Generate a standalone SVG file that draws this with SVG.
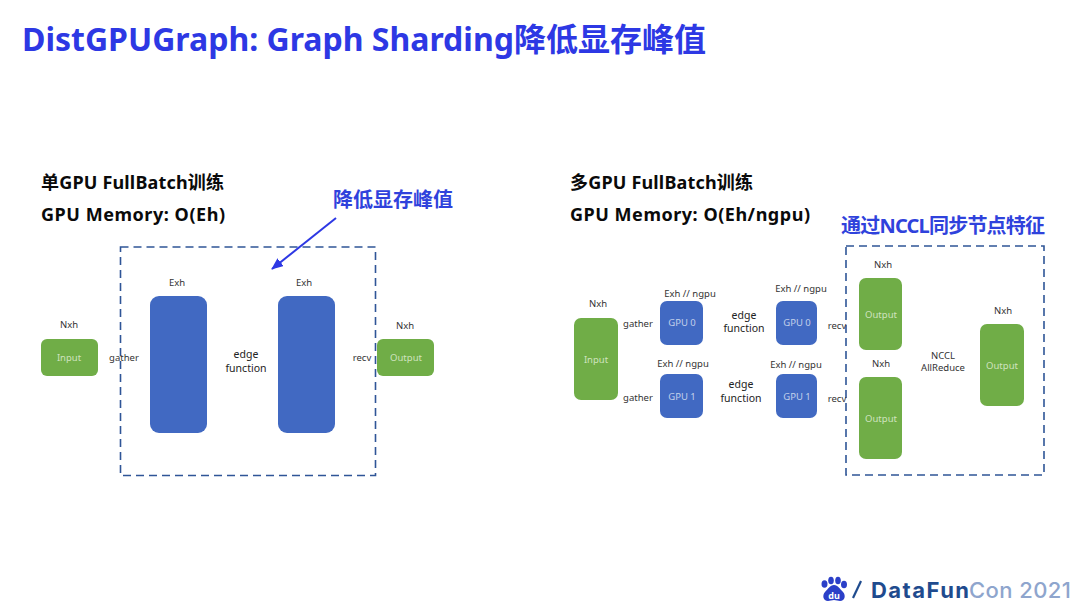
<svg xmlns="http://www.w3.org/2000/svg" width="1080" height="608" viewBox="0 0 1080 608">
<style>
text{font-family:"Noto Sans","Noto Sans CJK SC",sans-serif}
.title{font-size:32px;font-weight:700;fill:#2d38e4}
.head{font-size:18px;font-weight:700;fill:#0a0a0a}
.call{font-size:20px;font-weight:700;fill:#2f42dc}
.lab{font-size:9.5px;fill:#333;text-anchor:middle}
.big{font-size:10.500px;fill:#222;text-anchor:middle}
.in{font-size:9.5px;fill:#cfe3bf;text-anchor:middle}
.gpu{font-size:9.5px;fill:#c3d0ea;text-anchor:middle}
.blue{fill:#4169c2}
.green{fill:#70ad47}
.dash{fill:none;stroke:#2f5597;stroke-width:1.6;stroke-dasharray:8 5}
</style>
<defs>
<marker id="ah" markerWidth="6" markerHeight="5" refX="5.500" refY="2.500" orient="auto" markerUnits="strokeWidth"><path d="M0 0L6 2.500L0 5z" fill="#2d38e4"/></marker>
</defs>
<rect width="1080" height="608" fill="#fff"/>
<text class="title" x="22" y="51" textLength="684">DistGPUGraph: Graph Sharding降低显存峰值</text>
<text class="head" x="41" y="189" textLength="183">单GPU FullBatch训练</text>
<text class="head" x="41" y="221" textLength="184">GPU Memory: O(Eh)</text>
<text class="head" x="570" y="189" textLength="183">多GPU FullBatch训练</text>
<text class="head" x="570" y="221" textLength="240">GPU Memory: O(Eh/ngpu)</text>
<text class="call" x="333" y="207" textLength="120">降低显存峰值</text>
<text class="call" x="841" y="233" textLength="204">通过NCCL同步节点特征</text>
<g id="connectors">
<rect class="dash" x="120.500" y="247" width="255" height="228.500"/>
<rect class="dash" x="846" y="246" width="198" height="229"/>
<line x1="336" y1="218" x2="272" y2="269" stroke="#2d38e4" stroke-width="2" marker-end="url(#ah)"/>
</g>
<g id="left-input"><rect class="green" x="41" y="339" width="57" height="37" rx="6"/><text class="in" x="69" y="361">Input</text><text class="lab" x="69" y="328">Nxh</text></g>
<g id="left-gather"><text class="lab" x="124" y="361">gather</text></g>
<g id="left-exh-1"><rect class="blue" x="150" y="296" width="57" height="137" rx="9"/><text class="lab" x="177" y="286">Exh</text></g>
<g id="left-edge"><text class="big" x="246" y="358">edge</text><text class="big" x="246" y="372">function</text></g>
<g id="left-exh-2"><rect class="blue" x="278" y="296" width="57" height="137" rx="9"/><text class="lab" x="304" y="286">Exh</text></g>
<g id="left-recv"><text class="lab" x="362" y="361">recv</text></g>
<g id="left-output"><rect class="green" x="377" y="339" width="57" height="37" rx="6"/><text class="in" x="406" y="361">Output</text><text class="lab" x="405" y="329">Nxh</text></g>
<g id="right-input"><rect class="green" x="574" y="318" width="44" height="82" rx="7"/><text class="in" x="596" y="363">Input</text><text class="lab" x="598" y="307">Nxh</text></g>
<g id="right-gather"><text class="lab" x="638" y="327">gather</text><text class="lab" x="638" y="401">gather</text></g>
<g id="gpu0-a"><rect class="blue" x="660" y="301" width="43" height="44" rx="7"/><text class="gpu" x="682" y="326">GPU 0</text><text class="lab" x="690" y="297">Exh // ngpu</text></g>
<g id="gpu1-a"><rect class="blue" x="660" y="374" width="43" height="44" rx="7"/><text class="gpu" x="682" y="400">GPU 1</text><text class="lab" x="683" y="367">Exh // ngpu</text></g>
<g id="edge-0"><text class="big" x="744" y="319">edge</text><text class="big" x="744" y="332">function</text></g>
<g id="edge-1"><text class="big" x="741" y="388">edge</text><text class="big" x="741" y="402">function</text></g>
<g id="gpu0-b"><rect class="blue" x="776" y="301" width="41" height="44" rx="7"/><text class="gpu" x="797" y="326">GPU 0</text><text class="lab" x="801" y="292">Exh // ngpu</text></g>
<g id="gpu1-b"><rect class="blue" x="776" y="374" width="41" height="44" rx="7"/><text class="gpu" x="797" y="400">GPU 1</text><text class="lab" x="796" y="368">Exh // ngpu</text></g>
<g id="right-recv"><text class="lab" x="837" y="329">recv</text><text class="lab" x="837" y="402">recv</text></g>
<g id="output-0"><rect class="green" x="859" y="278" width="43" height="72" rx="7"/><text class="in" x="881" y="318">Output</text><text class="lab" x="883" y="268">Nxh</text></g>
<g id="output-1"><rect class="green" x="859" y="377" width="43" height="82" rx="7"/><text class="in" x="881" y="422">Output</text><text class="lab" x="881" y="367">Nxh</text></g>
<g id="allreduce"><text class="lab" x="943" y="359">NCCL</text><text class="lab" x="943" y="371">AllReduce</text></g>
<g id="output-2"><rect class="green" x="980" y="324" width="44" height="82" rx="7"/><text class="in" x="1002" y="369">Output</text><text class="lab" x="1003" y="314">Nxh</text></g>
<g id="logo">
<g fill="#2b3fc8">
<ellipse cx="824.500" cy="584" rx="3" ry="3.800"/><ellipse cx="831" cy="580.500" rx="2.800" ry="3.800"/><ellipse cx="838" cy="580.500" rx="2.800" ry="3.800"/><ellipse cx="844" cy="584.500" rx="3" ry="3.800"/>
<path d="M834 585c4 0 6 4 9 7c3 3 2 9-3 9c-2 0-4-1-6-1s-4 1-6 1c-5 0-6-6-3-9c3-3 5-7 9-7z"/>
</g>
<text x="834" y="599" font-size="9" font-weight="700" fill="#fff" text-anchor="middle">du</text>
<line x1="853" y1="598" x2="861" y2="581" stroke="#1f4b8e" stroke-width="2.200"/>
<text x="871" y="598" font-size="22" font-weight="700" fill="#1f4b8e" style="font-family:'Inter','Noto Sans',sans-serif" textLength="98">DataFun</text>
<text x="969" y="598" font-size="22" font-weight="500" fill="#8ea5cd" style="font-family:'Inter','Noto Sans',sans-serif" textLength="102">Con 2021</text>
</g>
</svg>
